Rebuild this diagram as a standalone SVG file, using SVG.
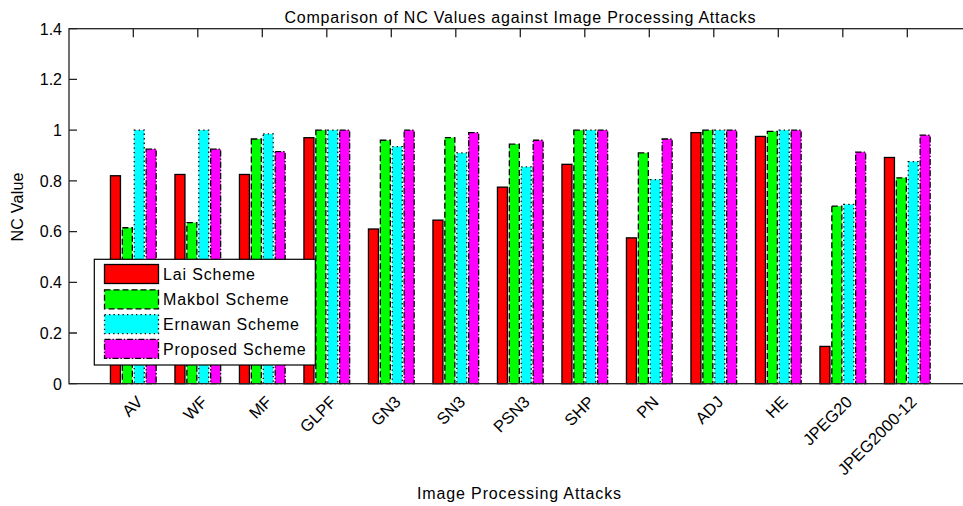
<svg xmlns="http://www.w3.org/2000/svg" width="963" height="506" viewBox="0 0 963 506">
  <style>
    text { font-family: "Liberation Sans", Arial, sans-serif; fill: #000; }
    .t16 { font-size: 16px; }
    .xt { font-size: 16.5px; }
    .axis { stroke: #222; stroke-width: 1.3; fill: none; }
    .tick { stroke: #222; stroke-width: 1.3; }
    .lai { fill: #ff0000; stroke: #000; stroke-width: 1.3; }
    .mak { fill: #00ff00; stroke: #000; stroke-width: 1.3; stroke-dasharray: 6 3; }
    .ern { fill: #00ffff; stroke: #000; stroke-width: 1.3; stroke-dasharray: 1.3 3.2; }
    .pro { fill: #ff00ff; stroke: #000; stroke-width: 1.3; stroke-dasharray: 6 2 1.3 2; }
  </style>
  <rect x="0" y="0" width="963" height="506" fill="#fff"/>

  <!-- title -->
  <text class="t16" x="520" y="23" text-anchor="middle" textLength="471" lengthAdjust="spacing">Comparison of NC Values against Image Processing Attacks</text>

  <!-- bars: cx = 133.3 + i*64.5, offsets -22.85 / -10.95 / 0.95 / 12.85, width 10, y0 = 383.7, scale 253.6 -->
  <g id="bars-lai">
    <rect class="lai" x="110.45" y="175.75" width="10" height="207.95"/>
    <rect class="lai" x="174.95" y="174.48" width="10" height="209.22"/>
    <rect class="lai" x="239.45" y="174.48" width="10" height="209.22"/>
    <rect class="lai" x="303.95" y="137.71" width="10" height="245.99"/>
    <rect class="lai" x="368.45" y="229.0" width="10" height="154.7"/>
    <rect class="lai" x="432.95" y="220.13" width="10" height="163.57"/>
    <rect class="lai" x="497.45" y="187.16" width="10" height="196.54"/>
    <rect class="lai" x="561.95" y="164.34" width="10" height="219.36"/>
    <rect class="lai" x="626.45" y="237.88" width="10" height="145.82"/>
    <rect class="lai" x="690.95" y="132.64" width="10" height="251.06"/>
    <rect class="lai" x="755.45" y="136.44" width="10" height="247.26"/>
    <rect class="lai" x="819.95" y="346.42" width="10" height="37.28"/>
    <rect class="lai" x="884.45" y="157.49" width="10" height="226.21"/>
  </g>
  <g id="bars-makbol">
    <rect class="mak" x="122.35" y="227.74" width="10" height="155.96"/>
    <rect class="mak" x="186.85" y="222.66" width="10" height="161.04"/>
    <rect class="mak" x="251.35" y="138.98" width="10" height="244.72"/>
    <rect class="mak" x="315.85" y="130.1" width="10" height="253.6"/>
    <rect class="mak" x="380.35" y="140.24" width="10" height="243.46"/>
    <rect class="mak" x="444.85" y="137.71" width="10" height="245.99"/>
    <rect class="mak" x="509.35" y="144.05" width="10" height="239.65"/>
    <rect class="mak" x="573.85" y="130.1" width="10" height="253.6"/>
    <rect class="mak" x="638.35" y="152.92" width="10" height="230.78"/>
    <rect class="mak" x="702.85" y="130.1" width="10" height="253.6"/>
    <rect class="mak" x="767.35" y="131.37" width="10" height="252.33"/>
    <rect class="mak" x="831.85" y="206.18" width="10" height="177.52"/>
    <rect class="mak" x="896.35" y="177.78" width="10" height="205.92"/>
  </g>
  <g id="bars-ernawan">
    <rect class="ern" x="134.25" y="130.1" width="10" height="253.6"/>
    <rect class="ern" x="198.75" y="130.1" width="10" height="253.6"/>
    <rect class="ern" x="263.25" y="133.9" width="10" height="249.8"/>
    <rect class="ern" x="327.75" y="130.1" width="10" height="253.6"/>
    <rect class="ern" x="392.25" y="146.58" width="10" height="237.12"/>
    <rect class="ern" x="456.75" y="152.92" width="10" height="230.78"/>
    <rect class="ern" x="521.25" y="166.87" width="10" height="216.83"/>
    <rect class="ern" x="585.75" y="130.1" width="10" height="253.6"/>
    <rect class="ern" x="650.25" y="179.55" width="10" height="204.15"/>
    <rect class="ern" x="714.75" y="130.1" width="10" height="253.6"/>
    <rect class="ern" x="779.25" y="130.1" width="10" height="253.6"/>
    <rect class="ern" x="843.75" y="204.4" width="10" height="179.3"/>
    <rect class="ern" x="908.25" y="161.55" width="10" height="222.15"/>
  </g>
  <g id="bars-proposed">
    <rect class="pro" x="146.15" y="149.12" width="10" height="234.58"/>
    <rect class="pro" x="210.65" y="149.12" width="10" height="234.58"/>
    <rect class="pro" x="275.15" y="151.66" width="10" height="232.04"/>
    <rect class="pro" x="339.65" y="130.1" width="10" height="253.6"/>
    <rect class="pro" x="404.15" y="130.1" width="10" height="253.6"/>
    <rect class="pro" x="468.65" y="132.64" width="10" height="251.06"/>
    <rect class="pro" x="533.15" y="140.24" width="10" height="243.46"/>
    <rect class="pro" x="597.65" y="130.1" width="10" height="253.6"/>
    <rect class="pro" x="662.15" y="138.98" width="10" height="244.72"/>
    <rect class="pro" x="726.65" y="130.1" width="10" height="253.6"/>
    <rect class="pro" x="791.15" y="130.1" width="10" height="253.6"/>
    <rect class="pro" x="855.65" y="152.16" width="10" height="231.54"/>
    <rect class="pro" x="920.15" y="135.17" width="10" height="248.53"/>
  </g>

  <!-- axes box -->
  <g id="axes">
    <rect class="axis" x="69" y="28.7" width="902" height="355"/>
    <!-- y ticks, left and right -->
    <path class="tick" d="M69 383.7h8M69 333h8M69 282.3h8M69 231.6h8M69 180.8h8M69 130.1h8M69 79.4h8M69 28.7h8"/>
    <path class="tick" d="M971 383.7h-8M971 333h-8M971 282.3h-8M971 231.6h-8M971 180.8h-8M971 130.1h-8M971 79.4h-8M971 28.7h-8"/>
    <!-- x ticks along the top -->
    <path class="tick" d="M133.3 28.7v8.5M197.8 28.7v8.5M262.3 28.7v8.5M326.8 28.7v8.5M391.3 28.7v8.5M455.8 28.7v8.5M520.3 28.7v8.5M584.8 28.7v8.5M649.3 28.7v8.5M713.8 28.7v8.5M778.3 28.7v8.5M842.8 28.7v8.5M907.3 28.7v8.5"/>
  </g>

  <!-- y tick labels -->
  <g id="y-labels" class="t16" text-anchor="end">
    <text x="62" y="389.5">0</text>
    <text x="62" y="338.8">0.2</text>
    <text x="62" y="288.1">0.4</text>
    <text x="62" y="237.4">0.6</text>
    <text x="62" y="186.6">0.8</text>
    <text x="62" y="135.9">1</text>
    <text x="62" y="85.2">1.2</text>
    <text x="62" y="34.5">1.4</text>
  </g>

  <!-- x tick labels, rotated -->
  <g id="x-labels" class="xt" text-anchor="end">
    <text transform="translate(143.8 403) rotate(-45)">AV</text>
    <text transform="translate(208.3 403) rotate(-45)">WF</text>
    <text transform="translate(272.8 403) rotate(-45)">MF</text>
    <text transform="translate(337.3 403) rotate(-45)">GLPF</text>
    <text transform="translate(401.8 403) rotate(-45)">GN3</text>
    <text transform="translate(466.3 403) rotate(-45)">SN3</text>
    <text transform="translate(530.8 403) rotate(-45)">PSN3</text>
    <text transform="translate(595.3 403) rotate(-45)">SHP</text>
    <text transform="translate(659.8 403) rotate(-45)">PN</text>
    <text transform="translate(724.3 403) rotate(-45)">ADJ</text>
    <text transform="translate(788.8 403) rotate(-45)">HE</text>
    <text transform="translate(853.3 403) rotate(-45)">JPEG20</text>
    <text transform="translate(917.8 403) rotate(-45)">JPEG2000-12</text>
  </g>

  <!-- axis titles -->
  <text class="t16" x="519" y="499" text-anchor="middle" textLength="204" lengthAdjust="spacing">Image Processing Attacks</text>
  <text class="t16" transform="translate(23 207) rotate(-90)" text-anchor="middle" textLength="69" lengthAdjust="spacing">NC Value</text>

  <!-- legend -->
  <g id="legend">
    <rect x="94.3" y="259.3" width="221" height="105.7" fill="#fff" stroke="#000" stroke-width="1.2"/>
    <rect class="lai" x="104.5" y="264.5" width="54" height="19"/>
    <rect class="mak" x="104.5" y="289.8" width="54" height="19"/>
    <rect class="ern" x="104.5" y="314.6" width="54" height="19"/>
    <rect class="pro" x="104.5" y="339.4" width="54" height="19"/>
    <text class="t16" x="163" y="279.5" textLength="92" lengthAdjust="spacing">Lai Scheme</text>
    <text class="t16" x="163" y="305.3" textLength="125.7" lengthAdjust="spacing">Makbol Scheme</text>
    <text class="t16" x="163" y="329.8" textLength="136" lengthAdjust="spacing">Ernawan Scheme</text>
    <text class="t16" x="163" y="354.5" textLength="142.7" lengthAdjust="spacing">Proposed Scheme</text>
  </g>
</svg>
